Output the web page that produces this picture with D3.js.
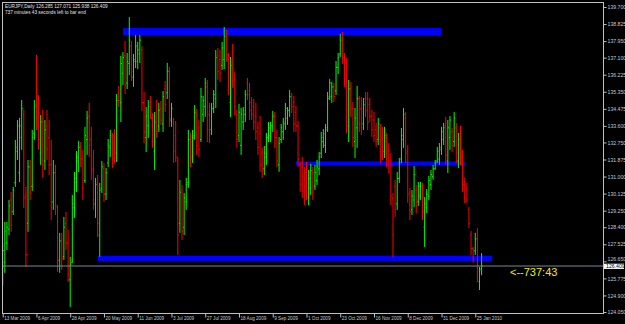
<!DOCTYPE html>
<html>
<head>
<meta charset="utf-8">
<script src="https://cdn.jsdelivr.net/npm/d3@7"></script>
<style>
html, body { margin: 0; padding: 0; background: #000; }
svg { display: block; }
</style>
</head>
<body>
<div id="chart"></div>
<script>
// EURJPY daily bars, 13 Mar 2009 .. 28 Jan 2010
const opens = [
  125.9,126.6,127.6,128.3,129.8,129.2,130.7,132.3,131.2,133.0,
  134.2,130.0,128.6,131.5,130.5,133.2,134.7,134.3,132.2,133.8,
  131.8,133.6,133.0,131.6,129.7,131.2,129.4,126.7,127.7,126.9,
  128.6,127.6,125.7,126.6,129.4,130.7,131.8,132.5,131.9,130.8,
  132.9,134.1,132.9,131.4,129.6,130.7,128.0,130.4,131.4,130.1,
  131.7,132.5,133.0,133.1,132.2,135.3,134.8,136.3,137.2,135.8,
  136.8,137.7,136.1,136.9,136.9,137.3,137.5,134.8,133.0,133.6,
  134.8,134.0,132.3,134.3,133.6,134.5,133.7,135.5,135.3,136.4,
  133.9,133.8,133.1,131.8,128.6,130.3,128.4,129.7,130.7,132.9,
  132.0,133.1,134.2,133.5,132.9,134.2,134.6,135.6,134.2,133.4,
  134.5,135.0,137.2,137.0,136.7,137.0,138.2,137.0,134.8,137.4,
  136.0,134.2,133.1,132.6,133.8,134.2,135.8,135.4,134.8,134.6,
  134.1,133.5,133.2,132.2,131.4,132.0,133.0,133.1,133.6,134.1,
  133.0,131.6,132.9,133.3,133.7,134.0,134.4,135.1,134.8,134.3,
  133.6,131.6,131.5,131.0,131.2,129.9,130.4,131.2,130.5,130.8,
  131.4,132.2,132.8,132.6,133.5,135.1,135.1,135.6,135.4,136.6,
  137.3,138.1,137.1,136.5,133.6,135.5,134.5,132.8,133.5,135.0,
  134.5,133.7,135.0,135.0,134.7,134.1,133.9,133.4,132.9,133.5,
  133.0,132.3,133.0,132.3,131.8,129.9,130.5,129.6,130.9,131.9,
  132.9,134.0,132.3,130.2,129.3,129.8,130.3,129.7,130.0,130.4,
  128.4,129.4,130.0,130.6,131.0,131.4,131.8,131.9,132.4,132.9,
  133.6,131.8,133.0,133.3,132.8,133.5,131.8,133.2,132.0,130.6,
  130.4,129.3,128.0,127.3,127.2,127.8,125.6,126.285
];
const highs = [
  127.59,128.67,128.67,129.8,130.21,130.47,132.88,133.9,134.01,134.93,
  134.42,130.47,131.85,131.85,133.39,134.93,137.24,135.19,134.16,134.42,
  133.9,134.42,133.9,132.88,131.85,131.6,129.54,128.11,128.11,128.93,
  129.18,128.26,126.88,130.06,131.24,132.31,132.83,132.77,132.37,133.55,
  134.37,134.78,133.55,132.37,130.93,131.08,130.67,131.8,131.7,131.44,
  132.93,133.39,133.24,133.44,135.24,135.65,137.19,137.39,137.96,137.34,
  139.19,137.96,137.29,138.26,137.91,138.26,137.7,135.34,134.57,134.93,
  135.14,134.26,134.31,134.93,134.78,134.88,135.39,135.9,136.83,136.62,
  134.78,134.01,133.85,132.01,130.83,130.57,130.16,130.93,133.39,133.24,
  133.39,134.67,134.47,133.9,135.55,135.14,136.06,135.96,134.78,134.78,
  135.44,137.49,137.6,137.49,137.91,138.67,138.52,137.34,137.14,137.8,
  136.37,134.42,134.73,134.52,134.57,135.44,136.06,135.8,135.08,134.98,
  134.78,133.8,134.11,132.47,132.57,133.24,133.8,133.8,134.37,134.31,
  133.39,133.03,133.7,134.01,134.78,134.57,135.44,135.29,135.14,134.62,
  133.85,131.75,132.01,131.49,131.75,131.34,131.65,131.49,131.6,131.85,
  132.26,133.29,133.44,133.7,135.34,136.01,135.85,135.8,136.93,137.34,
  138.32,138.42,137.34,137.08,135.96,135.85,134.83,134.52,135.65,135.14,
  135.08,135.03,135.34,135.34,135.03,134.42,134.31,133.75,134.01,133.7,
  133.55,133.55,133.24,132.72,132.21,130.16,130.83,131.24,131.95,133.49,
  134.52,134.31,132.62,130.42,130.31,131.54,130.57,130.72,130.72,130.67,
  129.95,130.36,131.03,131.34,131.6,131.85,132.52,132.72,133.55,133.75,
  134.06,133.9,134.11,133.49,134.31,133.75,133.24,133.6,132.37,130.93,
  130.67,129.44,128.21,127.39,128.11,128.36,126.36,127.071
];
const lows = [
  125.39,126.06,127.23,128.0,128.16,129.03,130.47,131.85,130.72,132.37,
  129.39,126.36,128.16,129.8,130.26,132.88,133.39,132.37,131.6,130.93,
  131.34,131.85,131.08,128.77,129.29,129.03,126.11,126.06,126.21,126.72,
  127.23,125.59,124.31,126.57,128.88,130.21,131.24,131.49,129.8,130.67,
  132.11,132.01,130.83,129.29,128.88,127.9,126.88,130.16,129.7,129.8,
  131.49,132.01,131.44,131.7,131.75,134.57,133.8,135.7,135.24,135.49,
  136.21,135.9,135.6,136.57,136.52,136.83,134.37,132.72,132.26,132.98,
  133.95,132.47,131.34,132.98,133.29,133.65,133.29,134.31,134.98,133.55,
  133.55,131.7,131.75,126.98,128.11,127.75,128.0,129.29,130.42,131.49,
  131.7,132.88,132.11,132.01,132.77,133.8,134.06,132.77,132.72,133.13,
  134.26,134.52,135.96,135.85,136.47,136.52,136.88,135.19,134.06,135.55,
  134.16,132.47,132.77,132.11,133.39,133.8,134.93,133.9,133.9,133.39,
  132.88,132.11,131.24,130.93,131.08,131.6,132.77,132.77,133.29,132.47,
  131.49,131.24,132.72,132.88,133.39,133.65,134.06,134.26,133.29,133.29,
  131.49,130.21,129.9,129.54,129.8,129.54,130.06,129.8,130.31,130.57,
  131.08,131.95,132.47,132.21,133.29,134.93,134.78,134.83,135.19,136.26,
  137.14,136.78,135.6,133.24,132.77,134.06,132.52,131.95,132.47,133.29,
  133.13,133.39,134.06,133.39,133.8,133.03,132.77,132.52,132.62,131.7,
  131.85,131.95,131.49,131.18,129.54,126.88,128.93,129.29,130.67,131.7,
  132.47,131.7,129.65,128.77,129.03,129.44,129.13,129.49,129.8,128.77,
  127.39,129.13,129.8,130.31,130.83,131.34,131.7,131.6,132.11,132.62,
  131.6,131.18,132.37,132.26,132.52,131.7,131.44,131.6,130.21,129.65,
  129.65,128.36,126.98,126.57,126.98,125.59,125.18,125.938
];
const closes = [
  127.2,128.2,128.4,129.5,128.5,130.3,132.5,133.6,133.6,134.5,
  129.9,127.0,131.5,130.2,133.0,134.6,134.0,132.9,133.8,131.6,
  133.4,132.4,131.6,129.4,131.2,129.5,126.7,127.7,126.8,128.4,
  127.6,126.0,126.5,129.6,130.9,132.0,132.5,131.9,130.4,133.1,
  134.0,132.6,131.3,129.8,130.6,128.6,130.3,131.5,130.1,131.2,
  132.6,133.1,131.9,132.2,134.9,134.9,136.8,137.1,135.7,136.9,
  138.0,136.4,137.0,137.7,137.5,138.0,134.8,133.3,134.1,134.6,
  134.3,132.8,133.8,133.3,134.4,133.9,135.1,134.7,136.4,134.0,
  134.5,132.3,132.0,128.0,130.2,128.2,129.9,130.6,132.9,131.9,
  133.0,134.3,132.6,132.4,135.1,134.9,135.8,133.4,133.2,134.5,
  135.2,137.1,136.4,136.3,137.6,138.2,137.2,135.7,136.7,135.9,
  134.6,132.9,134.3,134.2,134.4,135.2,135.2,134.4,134.2,133.8,
  133.3,132.5,131.6,131.3,132.2,133.0,133.5,133.6,134.1,133.0,
  131.8,132.7,133.5,133.8,134.5,134.4,135.1,134.6,133.7,133.6,
  131.9,130.6,130.3,129.8,130.2,130.9,131.3,130.2,131.2,131.5,
  132.0,133.0,133.2,133.4,135.0,135.8,135.6,135.1,136.6,137.1,
  138.0,137.1,136.0,133.8,135.5,134.5,133.0,134.0,135.0,133.7,
  133.5,134.7,134.4,133.8,134.1,133.4,133.1,132.8,133.7,132.1,
  132.3,133.1,131.9,131.5,130.0,128.0,129.3,130.9,131.7,133.1,
  134.2,132.2,130.1,129.2,130.0,131.1,129.5,130.5,130.5,129.2,
  129.6,130.1,130.8,131.1,131.4,131.7,132.3,132.5,133.3,133.5,
  132.1,133.5,133.9,132.6,134.0,132.2,132.9,132.0,130.6,129.9,
  129.8,128.6,127.3,126.8,127.8,126.4,126.2,126.409
];

// axis labels
const priceTicks = ["139.700","138.825","137.950","137.100","136.225","135.350","134.475",
  "133.600","132.750","131.875","131.000","130.125","129.250","128.400","127.525",
  "126.650","125.775","124.900","124.050"];
const dateTickBars = [0,16,32,48,64,80,96,112,128,144,160,176,192,208,224];
const dateTickLabels = ["13 Mar 2009","6 Apr 2009","28 Apr 2009","20 May 2009","11 Jun 2009",
  "3 Jul 2009","27 Jul 2009","18 Aug 2009","9 Sep 2009","1 Oct 2009","23 Oct 2009",
  "16 Nov 2009","8 Dec 2009","31 Dec 2009","25 Jan 2010"];

// horizontal blue levels drawn on the chart
const levelPrices = [138.44, 131.67, 126.80];
const levelFromBar = [57, 139, 45];
const levelToBar = [208, 219, 232];

const symbolName = "EURJPY,Daily";
const timerLine = "737 minutes 43 seconds left to bar end";
const timerLabel = "<--737:43";

const width = 625, height = 324;
const plot = {left: 2, right: 603, top: 2, bottom: 313};

const svg = d3.select("#chart").append("svg")
    .attr("width", width)
    .attr("height", height)
    .style("background", "#000");

const x = d3.scaleLinear().domain([0, closes.length - 1]).range([2.7, 481.6]);
const y = d3.scaleLinear().domain([124.05, 139.7]).range([312, 7]);

svg.append("defs").append("clipPath").attr("id", "plotclip")
  .append("rect")
    .attr("x", plot.left).attr("y", plot.top)
    .attr("width", plot.right - plot.left).attr("height", plot.bottom - plot.top);

const area = svg.append("g").attr("clip-path", "url(#plotclip)");

// levels (thick blue lines)
const levelThick = [7, 4, 5];
area.selectAll(".level")
  .data(levelPrices)
  .join("rect")
    .attr("class", "level")
    .attr("x", (d, i) => x(levelFromBar[i]))
    .attr("width", (d, i) => x(levelToBar[i]) - x(levelFromBar[i]))
    .attr("y", (d, i) => y(d) - levelThick[i] / 2)
    .attr("height", (d, i) => levelThick[i])
    .attr("fill", "#0000ff");

// OHLC bars
const idx = d3.range(closes.length);
const barColor = i => closes[i] >= opens[i] ? "#00ff00" : "#ff0000";

const bars = area.append("g");
bars.selectAll(".hl")
  .data(idx)
  .join("line")
    .attr("x1", i => x(i)).attr("x2", i => x(i))
    .attr("y1", i => y(highs[i])).attr("y2", i => y(lows[i]))
    .attr("stroke", barColor)
    .attr("stroke-width", 1);
bars.selectAll(".op")
  .data(idx)
  .join("line")
    .attr("x1", i => x(i) - 1).attr("x2", i => x(i))
    .attr("y1", i => y(opens[i])).attr("y2", i => y(opens[i]))
    .attr("stroke", barColor)
    .attr("stroke-width", 1);
bars.selectAll(".cl")
  .data(idx)
  .join("line")
    .attr("x1", i => x(i)).attr("x2", i => x(i) + 1)
    .attr("y1", i => y(closes[i])).attr("y2", i => y(closes[i]))
    .attr("stroke", barColor)
    .attr("stroke-width", 1);

// bid line
const last = closes.length - 1;
area.append("line")
    .attr("x1", plot.left).attr("x2", plot.right)
    .attr("y1", y(closes[last])).attr("y2", y(closes[last]))
    .attr("stroke", "#778899")
    .attr("stroke-width", 1);

// frame
svg.append("rect")
    .attr("x", plot.left + 0.5).attr("y", plot.top + 0.5)
    .attr("width", plot.right - plot.left).attr("height", plot.bottom - plot.top)
    .attr("fill", "none")
    .attr("stroke", "#c0c0c0");

// price axis
const yAxis = svg.append("g")
    .attr("transform", `translate(${plot.right + 0.5},0)`)
    .call(d3.axisRight(y)
      .tickValues(priceTicks.map(Number))
      .tickFormat((d, i) => priceTicks[i])
      .tickSize(3)
      .tickPadding(1));
yAxis.select(".domain").remove();
yAxis.selectAll(".tick line").attr("stroke", "#c0c0c0");
yAxis.selectAll(".tick text")
    .attr("fill", "#c8c8c8")
    .style("font-family", "'Liberation Sans', Arial, sans-serif")
    .style("font-size", "5.2px");
// the tick just above the price tag is nudged up a little, as in the terminal
yAxis.selectAll(".tick text")
    .filter(d => Math.abs(y(d) - y(closes[closes.length - 1])) < 6)
    .attr("dy", "-0.1em");

// current price tag
const tagY = y(closes[last]);
svg.append("rect")
    .attr("x", plot.right + 1).attr("y", tagY - 2.3)
    .attr("width", 20).attr("height", 5.2)
    .attr("fill", "#ffffff");
svg.append("text")
    .attr("x", plot.right + 3).attr("y", tagY + 1.9)
    .attr("fill", "#000")
    .style("font-family", "'Liberation Sans', Arial, sans-serif")
    .style("font-size", "5.2px")
    .text(closes[last].toFixed(3));

// time axis
const xAxis = svg.append("g")
    .attr("transform", `translate(0,${plot.bottom + 0.5})`)
    .call(d3.axisBottom(x)
      .tickValues(dateTickBars)
      .tickFormat((d, i) => dateTickLabels[i])
      .tickSize(4));
xAxis.select(".domain").remove();
xAxis.selectAll(".tick line").attr("stroke", "#c0c0c0");
xAxis.selectAll(".tick text")
    .attr("fill", "#c8c8c8")
    .attr("text-anchor", "start")
    .attr("x", 1)
    .attr("y", 3)
    .style("font-family", "'Liberation Sans', Arial, sans-serif")
    .style("font-size", "4.6px");

// header
const hdr = svg.append("g")
    .style("font-family", "'Liberation Sans', Arial, sans-serif")
    .style("font-size", "4.7px")
    .attr("fill", "#e0e0e0");
hdr.append("text").attr("x", 5).attr("y", 8)
    .text(`${symbolName}  ${opens[last].toFixed(3)} ${highs[last].toFixed(3)} ${lows[last].toFixed(3)} ${closes[last].toFixed(3)}`);
hdr.append("text").attr("x", 5).attr("y", 14).text(timerLine);

// timer label
svg.append("text")
    .attr("x", 510).attr("y", tagY + 10)
    .attr("fill", "#f0f000")
    .style("font-family", "'Liberation Sans', Arial, sans-serif")
    .style("font-size", "11px")
    .text(timerLabel);
</script>
</body>
</html>
